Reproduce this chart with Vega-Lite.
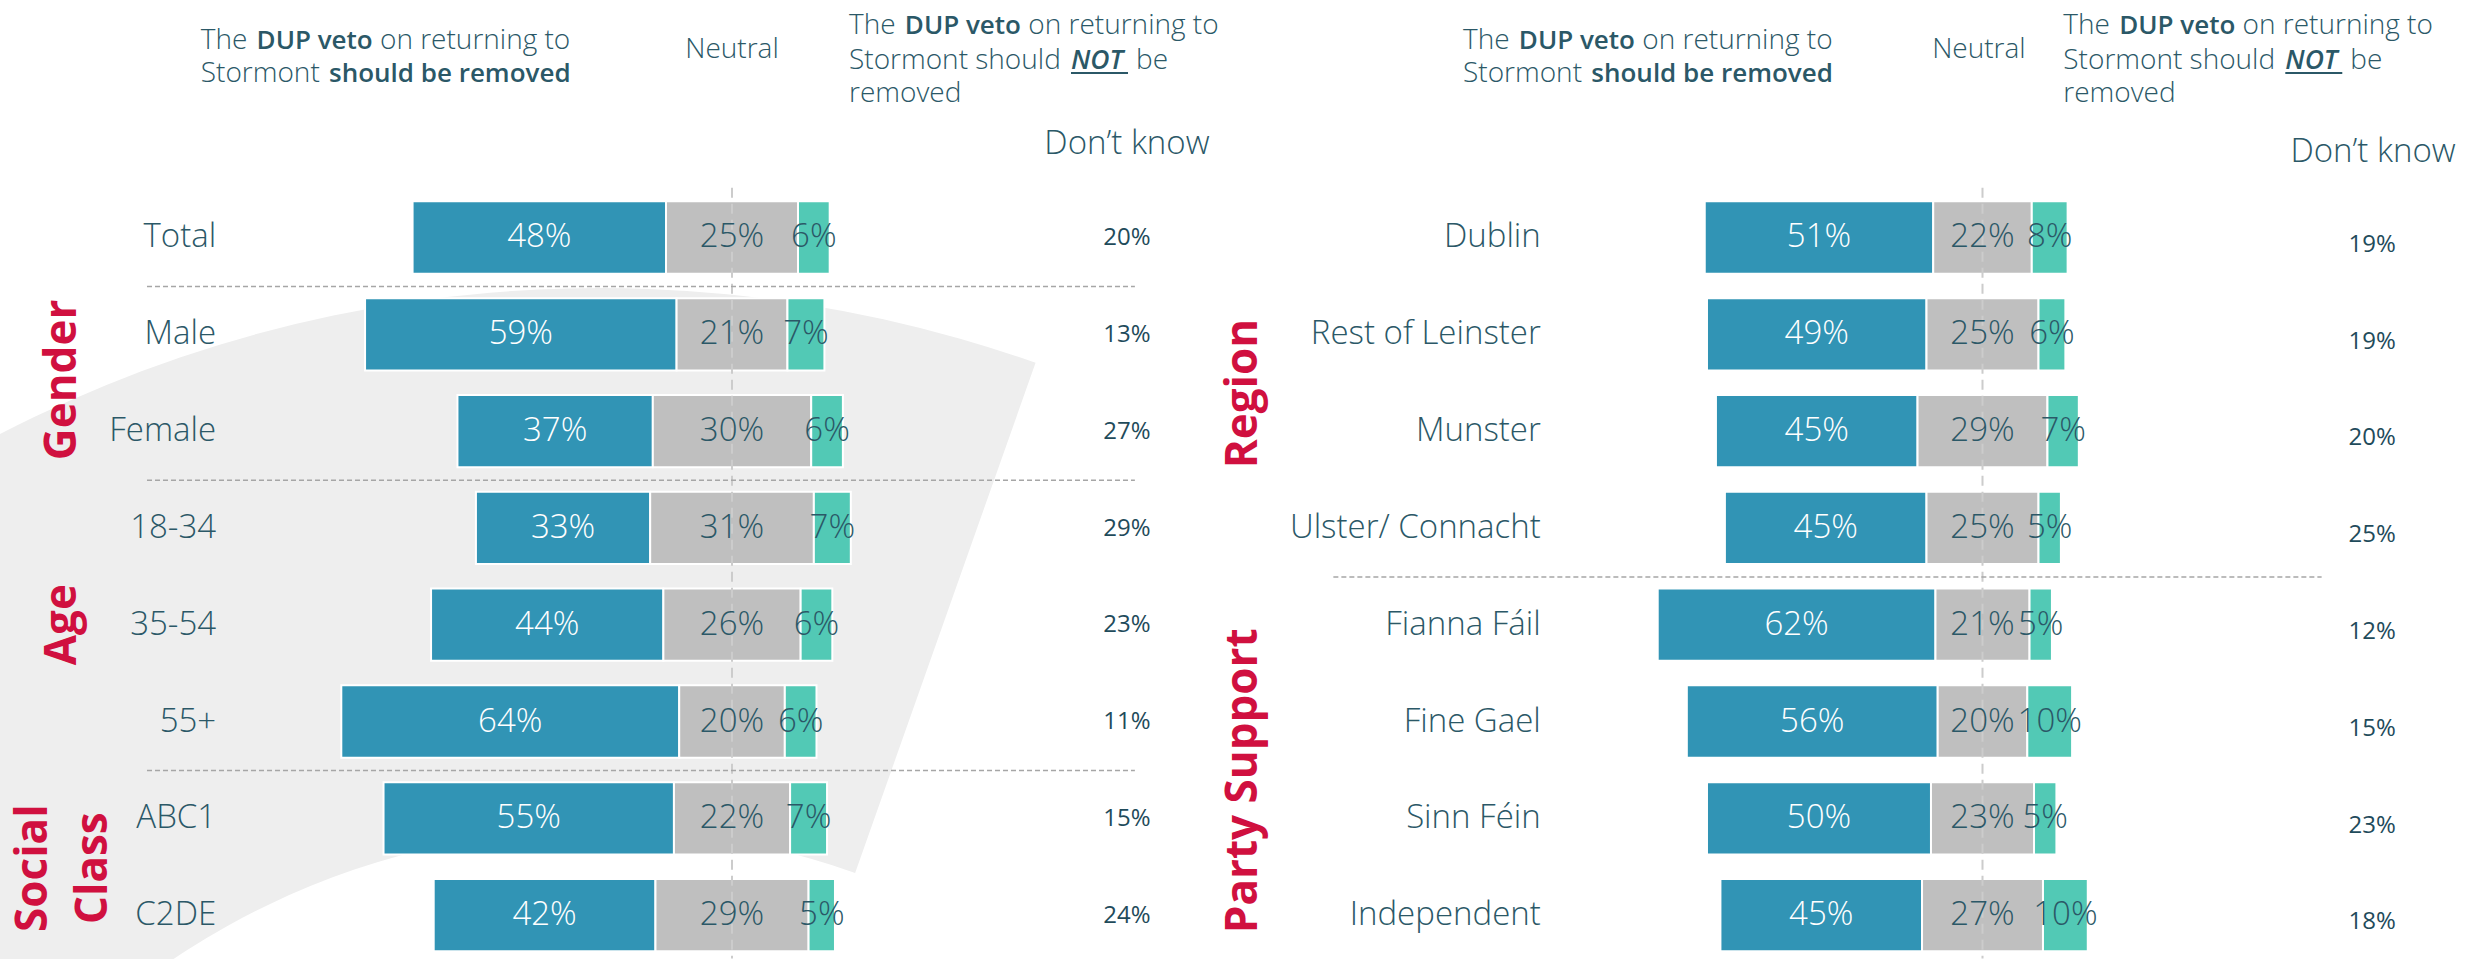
{
 "$schema": "https://vega.github.io/schema/vega-lite/v6.json",
 "padding": 0,
 "spacing": 0,
 "bounds": "flush",
 "background": "white",
 "config": {"view": {"stroke": null}, "text": {"font": "Open Sans", "color": "#2b5867"}},
 "datasets": {
  "L": [
   {"label": "Total", "remove": 48, "neutral": 25, "keep": 6, "dk": 20},
   {"label": "Male", "remove": 59, "neutral": 21, "keep": 7, "dk": 13},
   {"label": "Female", "remove": 37, "neutral": 30, "keep": 6, "dk": 27},
   {"label": "18-34", "remove": 33, "neutral": 31, "keep": 7, "dk": 29},
   {"label": "35-54", "remove": 44, "neutral": 26, "keep": 6, "dk": 23},
   {"label": "55+", "remove": 64, "neutral": 20, "keep": 6, "dk": 11},
   {"label": "ABC1", "remove": 55, "neutral": 22, "keep": 7, "dk": 15},
   {"label": "C2DE", "remove": 42, "neutral": 29, "keep": 5, "dk": 24}
  ],
  "R": [
   {"label": "Dublin", "remove": 51, "neutral": 22, "keep": 8, "dk": 19},
   {"label": "Rest of Leinster", "remove": 49, "neutral": 25, "keep": 6, "dk": 19},
   {"label": "Munster", "remove": 45, "neutral": 29, "keep": 7, "dk": 20},
   {"label": "Ulster/ Connacht", "remove": 45, "neutral": 25, "keep": 5, "dk": 25},
   {"label": "Fianna Fáil", "remove": 62, "neutral": 21, "keep": 5, "dk": 12},
   {"label": "Fine Gael", "remove": 56, "neutral": 20, "keep": 10, "dk": 15},
   {"label": "Sinn Féin", "remove": 50, "neutral": 23, "keep": 5, "dk": 23},
   {"label": "Independent", "remove": 45, "neutral": 27, "keep": 10, "dk": 18}
  ],
  "LS": [{"at": "Male"}, {"at": "18-34"}, {"at": "ABC1"}],
  "RS": [{"at": "Fianna Fáil"}],
  "LG": [{"g": "Gender", "at": "Male"}],
  "LG2": [{"g": "Age", "at": "35-54"}],
  "LG3": [{"g": "Social\nClass", "at": "ABC1"}],
  "RG": [{"g": "Region", "at": "Rest of Leinster"}, {"g": "Party Support", "at": "Fine Gael"}],
  "LH": [
   {"t": "The", "ln": "r1", "w": "l", "pos": -100.62},
   {"t": "DUP veto", "ln": "r1", "w": "b", "pos": -68.05},
   {"t": "on returning to", "ln": "r1", "w": "l", "pos": -66.67},
   {"t": "Stormont", "ln": "r2", "w": "l", "pos": -100.62},
   {"t": "should be removed", "ln": "r2", "w": "b", "pos": -76.33},
   {"t": "Neutral", "ln": "neu", "w": "l", "pos": 0},
   {"t": "The", "ln": "n1", "w": "l", "pos": 22.16},
   {"t": "DUP veto", "ln": "n1", "w": "b", "pos": 54.73},
   {"t": "on returning to", "ln": "n1", "w": "l", "pos": 56.12},
   {"t": "Stormont should", "ln": "n2", "w": "l", "pos": 22.16},
   {"t": "NOT", "ln": "n2", "w": "bi", "pos": 64.2},
   {"t": "be", "ln": "n2", "w": "l", "pos": 76.52},
   {"t": "removed", "ln": "n3", "w": "l", "pos": 22.16},
   {"t": "Don’t know", "ln": "dk", "w": "l", "pos": 74.8}
  ],
  "RH": [
   {"t": "The", "ln": "r1", "w": "l", "pos": -115.96},
   {"t": "DUP veto", "ln": "r1", "w": "b", "pos": -77.57},
   {"t": "on returning to", "ln": "r1", "w": "l", "pos": -75.94},
   {"t": "Stormont", "ln": "r2", "w": "l", "pos": -115.96},
   {"t": "should be removed", "ln": "r2", "w": "b", "pos": -87.32},
   {"t": "Neutral", "ln": "neu", "w": "l", "pos": -0.8},
   {"t": "The", "ln": "n1", "w": "l", "pos": 18.04},
   {"t": "DUP veto", "ln": "n1", "w": "b", "pos": 56.43},
   {"t": "on returning to", "ln": "n1", "w": "l", "pos": 58.06},
   {"t": "Stormont should", "ln": "n2", "w": "l", "pos": 18.04},
   {"t": "NOT", "ln": "n2", "w": "bi", "pos": 67.59},
   {"t": "be", "ln": "n2", "w": "l", "pos": 82.1},
   {"t": "removed", "ln": "n3", "w": "l", "pos": 18.04},
   {"t": "Don’t know", "ln": "dk", "w": "l", "pos": 87.17}
  ]
 },
 "hconcat": [
  {
   "width": 1240, "height": 959,
   "data": {"name": "L"},
   "layer": [
    {"data": {"values": [{}]}, "mark": {"type": "arc", "color": "#eeeeee", "outerRadius": 1306, "innerRadius": 765, "theta": -1.6, "theta2": 0.34, "clip": true},
     "encoding": {"x": {"datum": -25, "type": "quantitative", "scale": {"domain": [-138.64, 96.21], "nice": false, "zero": false}, "axis": null},
                  "y": {"datum": "C2DE", "type": "nominal", "scale": {"type": "band", "domain": ["h","dk","Total","Male","Female","18-34","35-54","55+","ABC1","C2DE"], "paddingInner": 0.253, "paddingOuter": 0.08}, "axis": null, "bandPosition": 9.89}}},
    {"transform": [{"calculate": "-datum.neutral/2 - datum.remove", "as": "a"}, {"calculate": "-datum.neutral/2", "as": "b"}],
     "mark": {"type": "bar", "color": "#3194b5", "stroke": "white", "strokeWidth": 2},
     "encoding": {"y": {"field": "label", "type": "nominal", "scale": {"type": "band", "domain": ["h","dk","Total","Male","Female","18-34","35-54","55+","ABC1","C2DE"], "paddingInner": 0.253, "paddingOuter": 0.08}, "axis": null},
                  "x": {"field": "a", "type": "quantitative", "scale": {"domain": [-138.64, 96.21], "nice": false, "zero": false}, "axis": null}, "x2": {"field": "b"}}},
    {"transform": [{"calculate": "-datum.neutral/2", "as": "a"}, {"calculate": "datum.neutral/2", "as": "b"}],
     "mark": {"type": "bar", "color": "#bfbfbf", "stroke": "white", "strokeWidth": 2},
     "encoding": {"y": {"field": "label", "type": "nominal", "axis": null},
                  "x": {"field": "a", "type": "quantitative", "axis": null}, "x2": {"field": "b"}}},
    {"transform": [{"calculate": "datum.neutral/2", "as": "a"}, {"calculate": "datum.neutral/2 + datum.keep", "as": "b"}],
     "mark": {"type": "bar", "color": "#52c9b5", "stroke": "white", "strokeWidth": 2},
     "encoding": {"y": {"field": "label", "type": "nominal", "axis": null},
                  "x": {"field": "a", "type": "quantitative", "axis": null}, "x2": {"field": "b"}}},
    {"data": {"values": [{}]}, "mark": {"type": "rule", "color": "#cccccc", "strokeWidth": 2, "strokeDash": [10, 6]},
     "encoding": {"x": {"datum": 0, "type": "quantitative", "axis": null},
                  "y": {"datum": "dk", "type": "nominal", "axis": null, "bandPosition": 1.15}, "y2": {"datum": "C2DE", "bandPosition": 1.1}}},
    {"data": {"name": "LS"}, "mark": {"type": "rule", "color": "#a6a6a6", "strokeWidth": 1.5, "strokeDash": [5, 3]},
     "encoding": {"y": {"field": "at", "type": "nominal", "axis": null, "bandPosition": -0.16},
                  "x": {"datum": -110.8, "type": "quantitative", "axis": null}, "x2": {"datum": 76.3}}},
    {"transform": [{"calculate": "-datum.neutral/2 - datum.remove/2", "as": "m"}, {"calculate": "datum.remove + '%'", "as": "t"}],
     "mark": {"type": "text", "color": "white", "fontSize": 33, "fontWeight": 300, "baseline": "middle", "align": "center"},
     "encoding": {"y": {"field": "label", "type": "nominal", "axis": null}, "x": {"field": "m", "type": "quantitative", "axis": null}, "text": {"field": "t"}}},
    {"transform": [{"calculate": "datum.neutral + '%'", "as": "t"}],
     "mark": {"type": "text", "fontSize": 33, "fontWeight": 300, "baseline": "middle", "align": "center"},
     "encoding": {"y": {"field": "label", "type": "nominal", "axis": null}, "x": {"datum": 0, "type": "quantitative", "axis": null}, "text": {"field": "t"}}},
    {"transform": [{"calculate": "datum.neutral/2 + datum.keep/2", "as": "m"}, {"calculate": "datum.keep + '%'", "as": "t"}],
     "mark": {"type": "text", "fontSize": 33, "fontWeight": 300, "baseline": "middle", "align": "center"},
     "encoding": {"y": {"field": "label", "type": "nominal", "axis": null}, "x": {"field": "m", "type": "quantitative", "axis": null}, "text": {"field": "t"}}},
    {"mark": {"type": "text", "fontSize": 33, "fontWeight": 300, "baseline": "middle", "align": "right"},
     "encoding": {"y": {"field": "label", "type": "nominal", "axis": null}, "x": {"datum": -97.7, "type": "quantitative", "axis": null}, "text": {"field": "label"}}},
    {"transform": [{"calculate": "datum.dk + '%'", "as": "t"}],
     "mark": {"type": "text", "fontSize": 24, "fontWeight": 400, "color": "#1f4b5b", "baseline": "middle", "align": "center"},
     "encoding": {"y": {"field": "label", "type": "nominal", "axis": null, "bandPosition": 0.51}, "x": {"datum": 74.8, "type": "quantitative", "axis": null}, "text": {"field": "t"}}},
    {"data": {"name": "LG"}, "mark": {"type": "text", "angle": 270, "fontSize": 44, "fontWeight": 700, "color": "#d0103f", "align": "center", "baseline": "middle"},
     "encoding": {"y": {"field": "at", "type": "nominal", "axis": null, "bandPosition": 1.13}, "x": {"datum": -126.8, "type": "quantitative", "axis": null}, "text": {"field": "g"}}},
    {"data": {"name": "LG2"}, "mark": {"type": "text", "angle": 270, "fontSize": 44, "fontWeight": 700, "color": "#d0103f", "align": "center", "baseline": "middle"},
     "encoding": {"y": {"field": "at", "type": "nominal", "axis": null, "bandPosition": 0.5}, "x": {"datum": -126.8, "type": "quantitative", "axis": null}, "text": {"field": "g"}}},
    {"data": {"name": "LG3"}, "mark": {"type": "text", "angle": 270, "fontSize": 44, "fontWeight": 700, "color": "#d0103f", "lineBreak": "\n", "lineHeight": 60, "align": "center", "baseline": "middle"},
     "encoding": {"y": {"field": "at", "type": "nominal", "axis": null, "bandPosition": 1.19}, "x": {"datum": -132.2, "type": "quantitative", "axis": null}, "text": {"field": "g"}}},
    {"data": {"name": "LH"}, "transform": [{"filter": "datum.ln == 'r1' && datum.w == 'l'"}],
     "mark": {"type": "text", "align": "left", "baseline": "alphabetic", "fontSize": 28, "fontWeight": 300},
     "encoding": {"x": {"field": "pos", "type": "quantitative", "axis": null}, "y": {"datum": "h", "type": "nominal", "axis": null, "bandPosition": 0.571}, "text": {"field": "t"}}},
    {"data": {"name": "LH"}, "transform": [{"filter": "datum.ln == 'r1' && datum.w == 'b'"}],
     "mark": {"type": "text", "align": "right", "baseline": "alphabetic", "fontSize": 26, "fontWeight": 600},
     "encoding": {"x": {"field": "pos", "type": "quantitative", "axis": null}, "y": {"datum": "h", "type": "nominal", "axis": null, "bandPosition": 0.571}, "text": {"field": "t"}}},
    {"data": {"name": "LH"}, "transform": [{"filter": "datum.ln == 'r2' && datum.w == 'l'"}],
     "mark": {"type": "text", "align": "left", "baseline": "alphabetic", "fontSize": 28, "fontWeight": 300},
     "encoding": {"x": {"field": "pos", "type": "quantitative", "axis": null}, "y": {"datum": "h", "type": "nominal", "axis": null, "bandPosition": 1.031}, "text": {"field": "t"}}},
    {"data": {"name": "LH"}, "transform": [{"filter": "datum.ln == 'r2' && datum.w == 'b'"}],
     "mark": {"type": "text", "align": "left", "baseline": "alphabetic", "fontSize": 26, "fontWeight": 600},
     "encoding": {"x": {"field": "pos", "type": "quantitative", "axis": null}, "y": {"datum": "h", "type": "nominal", "axis": null, "bandPosition": 1.031}, "text": {"field": "t"}}},
    {"data": {"name": "LH"}, "transform": [{"filter": "datum.ln == 'neu'"}],
     "mark": {"type": "text", "align": "center", "baseline": "alphabetic", "fontSize": 28, "fontWeight": 300},
     "encoding": {"x": {"field": "pos", "type": "quantitative", "axis": null}, "y": {"datum": "h", "type": "nominal", "axis": null, "bandPosition": 0.70}, "text": {"field": "t"}}},
    {"data": {"name": "LH"}, "transform": [{"filter": "datum.ln == 'n1' && datum.w == 'l'"}],
     "mark": {"type": "text", "align": "left", "baseline": "alphabetic", "fontSize": 28, "fontWeight": 300},
     "encoding": {"x": {"field": "pos", "type": "quantitative", "axis": null}, "y": {"datum": "h", "type": "nominal", "axis": null, "bandPosition": 0.367}, "text": {"field": "t"}}},
    {"data": {"name": "LH"}, "transform": [{"filter": "datum.ln == 'n1' && datum.w == 'b'"}],
     "mark": {"type": "text", "align": "right", "baseline": "alphabetic", "fontSize": 26, "fontWeight": 600},
     "encoding": {"x": {"field": "pos", "type": "quantitative", "axis": null}, "y": {"datum": "h", "type": "nominal", "axis": null, "bandPosition": 0.367}, "text": {"field": "t"}}},
    {"data": {"name": "LH"}, "transform": [{"filter": "datum.ln == 'n2' && datum.w == 'l'"}],
     "mark": {"type": "text", "align": "left", "baseline": "alphabetic", "fontSize": 28, "fontWeight": 300},
     "encoding": {"x": {"field": "pos", "type": "quantitative", "axis": null}, "y": {"datum": "h", "type": "nominal", "axis": null, "bandPosition": 0.849}, "text": {"field": "t"}}},
    {"data": {"name": "LH"}, "transform": [{"filter": "datum.ln == 'n2' && datum.w == 'bi'"}],
     "mark": {"type": "text", "align": "left", "baseline": "alphabetic", "fontSize": 26.5, "fontWeight": 600, "fontStyle": "italic"},
     "encoding": {"x": {"field": "pos", "type": "quantitative", "axis": null}, "y": {"datum": "h", "type": "nominal", "axis": null, "bandPosition": 0.849}, "text": {"field": "t"}}},
    {"data": {"name": "LH"}, "transform": [{"filter": "datum.ln == 'n3'"}],
     "mark": {"type": "text", "align": "left", "baseline": "alphabetic", "fontSize": 28, "fontWeight": 300},
     "encoding": {"x": {"field": "pos", "type": "quantitative", "axis": null}, "y": {"datum": "h", "type": "nominal", "axis": null, "bandPosition": 1.308}, "text": {"field": "t"}}},
    {"data": {"name": "LH"}, "transform": [{"filter": "datum.ln == 'dk'"}],
     "mark": {"type": "text", "align": "center", "baseline": "alphabetic", "fontSize": 33, "fontWeight": 300},
     "encoding": {"x": {"field": "pos", "type": "quantitative", "axis": null}, "y": {"datum": "dk", "type": "nominal", "axis": null, "bandPosition": 0.69}, "text": {"field": "t"}}},
    {"data": {"values": [{}]}, "mark": {"type": "rule", "color": "#2b5867", "strokeWidth": 2},
     "encoding": {"x": {"datum": 64.2, "type": "quantitative", "axis": null}, "x2": {"datum": 75.0}, "y": {"datum": "h", "type": "nominal", "axis": null, "bandPosition": 0.904}}}
   ]
  },
  {
   "width": 1243, "height": 959,
   "data": {"name": "R"},
   "layer": [
    {"transform": [{"calculate": "-datum.neutral/2 - datum.remove", "as": "a"}, {"calculate": "-datum.neutral/2", "as": "b"}],
     "mark": {"type": "bar", "color": "#3194b5", "stroke": "white", "strokeWidth": 2},
     "encoding": {"y": {"field": "label", "type": "nominal", "scale": {"type": "band", "domain": ["h","dk","Dublin","Rest of Leinster","Munster","Ulster/ Connacht","Fianna Fáil","Fine Gael","Sinn Féin","Independent"], "paddingInner": 0.253, "paddingOuter": 0.08}, "axis": null},
                  "x": {"field": "a", "type": "quantitative", "scale": {"domain": [-165.74, 111.72], "nice": false, "zero": false}, "axis": null}, "x2": {"field": "b"}}},
    {"transform": [{"calculate": "-datum.neutral/2", "as": "a"}, {"calculate": "datum.neutral/2", "as": "b"}],
     "mark": {"type": "bar", "color": "#bfbfbf", "stroke": "white", "strokeWidth": 2},
     "encoding": {"y": {"field": "label", "type": "nominal", "axis": null},
                  "x": {"field": "a", "type": "quantitative", "axis": null}, "x2": {"field": "b"}}},
    {"transform": [{"calculate": "datum.neutral/2", "as": "a"}, {"calculate": "datum.neutral/2 + datum.keep", "as": "b"}],
     "mark": {"type": "bar", "color": "#52c9b5", "stroke": "white", "strokeWidth": 2},
     "encoding": {"y": {"field": "label", "type": "nominal", "axis": null},
                  "x": {"field": "a", "type": "quantitative", "axis": null}, "x2": {"field": "b"}}},
    {"data": {"values": [{}]}, "mark": {"type": "rule", "color": "#cccccc", "strokeWidth": 2, "strokeDash": [10, 6]},
     "encoding": {"x": {"datum": 0, "type": "quantitative", "axis": null},
                  "y": {"datum": "dk", "type": "nominal", "axis": null, "bandPosition": 1.15}, "y2": {"datum": "Independent", "bandPosition": 1.1}}},
    {"data": {"name": "RS"}, "mark": {"type": "rule", "color": "#a6a6a6", "strokeWidth": 1.5, "strokeDash": [5, 3]},
     "encoding": {"y": {"field": "at", "type": "nominal", "axis": null, "bandPosition": -0.16},
                  "x": {"datum": -144.9, "type": "quantitative", "axis": null}, "x2": {"datum": 75.7}}},
    {"transform": [{"calculate": "-datum.neutral/2 - datum.remove/2", "as": "m"}, {"calculate": "datum.remove + '%'", "as": "t"}],
     "mark": {"type": "text", "color": "white", "fontSize": 33, "fontWeight": 300, "baseline": "middle", "align": "center"},
     "encoding": {"y": {"field": "label", "type": "nominal", "axis": null}, "x": {"field": "m", "type": "quantitative", "axis": null}, "text": {"field": "t"}}},
    {"transform": [{"calculate": "datum.neutral + '%'", "as": "t"}],
     "mark": {"type": "text", "fontSize": 33, "fontWeight": 300, "baseline": "middle", "align": "center"},
     "encoding": {"y": {"field": "label", "type": "nominal", "axis": null}, "x": {"datum": 0, "type": "quantitative", "axis": null}, "text": {"field": "t"}}},
    {"transform": [{"calculate": "datum.neutral/2 + datum.keep/2", "as": "m"}, {"calculate": "datum.keep + '%'", "as": "t"}],
     "mark": {"type": "text", "fontSize": 33, "fontWeight": 300, "baseline": "middle", "align": "center"},
     "encoding": {"y": {"field": "label", "type": "nominal", "axis": null}, "x": {"field": "m", "type": "quantitative", "axis": null}, "text": {"field": "t"}}},
    {"mark": {"type": "text", "fontSize": 33, "fontWeight": 300, "baseline": "middle", "align": "right"},
     "encoding": {"y": {"field": "label", "type": "nominal", "axis": null}, "x": {"datum": -98.6, "type": "quantitative", "axis": null}, "text": {"field": "label"}}},
    {"transform": [{"calculate": "datum.dk + '%'", "as": "t"}],
     "mark": {"type": "text", "fontSize": 24, "fontWeight": 400, "color": "#1f4b5b", "baseline": "middle", "align": "center"},
     "encoding": {"y": {"field": "label", "type": "nominal", "axis": null, "bandPosition": 0.6}, "x": {"datum": 87.0, "type": "quantitative", "axis": null}, "text": {"field": "t"}}},
    {"data": {"name": "RG"}, "mark": {"type": "text", "angle": 270, "fontSize": 44, "fontWeight": 700, "color": "#d0103f", "align": "center", "baseline": "middle"},
     "encoding": {"y": {"field": "at", "type": "nominal", "axis": null, "bandPosition": 1.32}, "x": {"datum": -164.8, "type": "quantitative", "axis": null}, "text": {"field": "g"}}},
    {"data": {"name": "RH"}, "transform": [{"filter": "datum.ln == 'r1' && datum.w == 'l'"}],
     "mark": {"type": "text", "align": "left", "baseline": "alphabetic", "fontSize": 28, "fontWeight": 300},
     "encoding": {"x": {"field": "pos", "type": "quantitative", "axis": null}, "y": {"datum": "h", "type": "nominal", "axis": null, "bandPosition": 0.571}, "text": {"field": "t"}}},
    {"data": {"name": "RH"}, "transform": [{"filter": "datum.ln == 'r1' && datum.w == 'b'"}],
     "mark": {"type": "text", "align": "right", "baseline": "alphabetic", "fontSize": 26, "fontWeight": 600},
     "encoding": {"x": {"field": "pos", "type": "quantitative", "axis": null}, "y": {"datum": "h", "type": "nominal", "axis": null, "bandPosition": 0.571}, "text": {"field": "t"}}},
    {"data": {"name": "RH"}, "transform": [{"filter": "datum.ln == 'r2' && datum.w == 'l'"}],
     "mark": {"type": "text", "align": "left", "baseline": "alphabetic", "fontSize": 28, "fontWeight": 300},
     "encoding": {"x": {"field": "pos", "type": "quantitative", "axis": null}, "y": {"datum": "h", "type": "nominal", "axis": null, "bandPosition": 1.031}, "text": {"field": "t"}}},
    {"data": {"name": "RH"}, "transform": [{"filter": "datum.ln == 'r2' && datum.w == 'b'"}],
     "mark": {"type": "text", "align": "left", "baseline": "alphabetic", "fontSize": 26, "fontWeight": 600},
     "encoding": {"x": {"field": "pos", "type": "quantitative", "axis": null}, "y": {"datum": "h", "type": "nominal", "axis": null, "bandPosition": 1.031}, "text": {"field": "t"}}},
    {"data": {"name": "RH"}, "transform": [{"filter": "datum.ln == 'neu'"}],
     "mark": {"type": "text", "align": "center", "baseline": "alphabetic", "fontSize": 28, "fontWeight": 300},
     "encoding": {"x": {"field": "pos", "type": "quantitative", "axis": null}, "y": {"datum": "h", "type": "nominal", "axis": null, "bandPosition": 0.70}, "text": {"field": "t"}}},
    {"data": {"name": "RH"}, "transform": [{"filter": "datum.ln == 'n1' && datum.w == 'l'"}],
     "mark": {"type": "text", "align": "left", "baseline": "alphabetic", "fontSize": 28, "fontWeight": 300},
     "encoding": {"x": {"field": "pos", "type": "quantitative", "axis": null}, "y": {"datum": "h", "type": "nominal", "axis": null, "bandPosition": 0.367}, "text": {"field": "t"}}},
    {"data": {"name": "RH"}, "transform": [{"filter": "datum.ln == 'n1' && datum.w == 'b'"}],
     "mark": {"type": "text", "align": "right", "baseline": "alphabetic", "fontSize": 26, "fontWeight": 600},
     "encoding": {"x": {"field": "pos", "type": "quantitative", "axis": null}, "y": {"datum": "h", "type": "nominal", "axis": null, "bandPosition": 0.367}, "text": {"field": "t"}}},
    {"data": {"name": "RH"}, "transform": [{"filter": "datum.ln == 'n2' && datum.w == 'l'"}],
     "mark": {"type": "text", "align": "left", "baseline": "alphabetic", "fontSize": 28, "fontWeight": 300},
     "encoding": {"x": {"field": "pos", "type": "quantitative", "axis": null}, "y": {"datum": "h", "type": "nominal", "axis": null, "bandPosition": 0.849}, "text": {"field": "t"}}},
    {"data": {"name": "RH"}, "transform": [{"filter": "datum.ln == 'n2' && datum.w == 'bi'"}],
     "mark": {"type": "text", "align": "left", "baseline": "alphabetic", "fontSize": 26.5, "fontWeight": 600, "fontStyle": "italic"},
     "encoding": {"x": {"field": "pos", "type": "quantitative", "axis": null}, "y": {"datum": "h", "type": "nominal", "axis": null, "bandPosition": 0.849}, "text": {"field": "t"}}},
    {"data": {"name": "RH"}, "transform": [{"filter": "datum.ln == 'n3'"}],
     "mark": {"type": "text", "align": "left", "baseline": "alphabetic", "fontSize": 28, "fontWeight": 300},
     "encoding": {"x": {"field": "pos", "type": "quantitative", "axis": null}, "y": {"datum": "h", "type": "nominal", "axis": null, "bandPosition": 1.308}, "text": {"field": "t"}}},
    {"data": {"name": "RH"}, "transform": [{"filter": "datum.ln == 'dk'"}],
     "mark": {"type": "text", "align": "center", "baseline": "alphabetic", "fontSize": 33, "fontWeight": 300},
     "encoding": {"x": {"field": "pos", "type": "quantitative", "axis": null}, "y": {"datum": "dk", "type": "nominal", "axis": null, "bandPosition": 0.80}, "text": {"field": "t"}}},
    {"data": {"values": [{}]}, "mark": {"type": "rule", "color": "#2b5867", "strokeWidth": 2},
     "encoding": {"x": {"datum": 67.59, "type": "quantitative", "axis": null}, "x2": {"datum": 80.31}, "y": {"datum": "h", "type": "nominal", "axis": null, "bandPosition": 0.904}}}
   ]
  }
 ]
}
